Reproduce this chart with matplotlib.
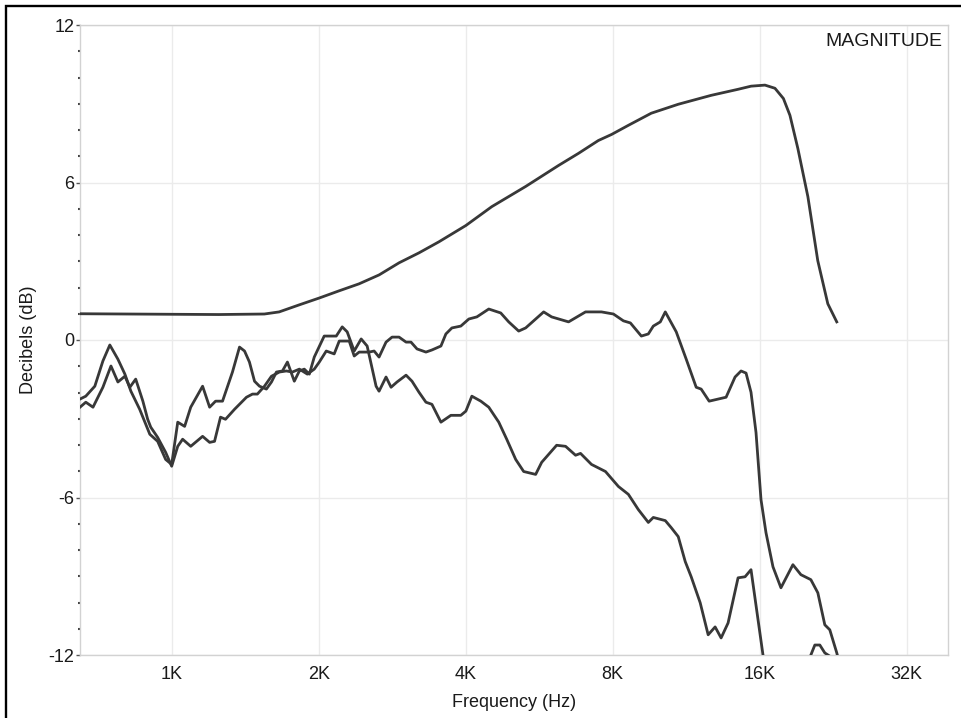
import matplotlib

matplotlib.use("Agg")

import matplotlib.pyplot as plt
from matplotlib.patches import Rectangle
from matplotlib.ticker import FixedLocator, MultipleLocator, NullLocator

# Target (smooth) magnitude curve
target_hz = [649, 1000, 1250, 1548, 1660, 1826, 2006, 2200, 2420, 2660, 2922, 3210,
             3526, 4003, 4525, 5310, 6200, 6810, 7480, 7960, 8620, 9600, 10900,
             12730, 14450, 15370, 16410, 17200, 17900, 18460, 19160, 20090, 21050,
             22070, 23020]
target_db = [1.0, 0.98, 0.97, 0.99, 1.07, 1.34, 1.60, 1.87, 2.14, 2.48, 2.94, 3.32,
             3.74, 4.36, 5.08, 5.85, 6.65, 7.11, 7.60, 7.83, 8.18, 8.64, 8.98,
             9.32, 9.55, 9.67, 9.71, 9.59, 9.20, 8.56, 7.30, 5.46, 3.02,
             1.38, 0.69]

# Measured response, first trace
resp1_hz = [649, 667, 696, 723, 747, 776, 802, 825, 860, 902, 936, 972, 1000, 1029,
            1063, 1094, 1157, 1196, 1230, 1271, 1332, 1377, 1410, 1443, 1478, 1513,
            1563, 1601, 1639, 1686, 1726, 1783, 1826, 1869, 1914, 1959, 2053, 2173,
            2235, 2288, 2365, 2444, 2514, 2622, 2659, 2748, 2814, 2894, 3020, 3106,
            3210, 3317, 3412, 3560, 3731, 3910, 4004, 4119, 4297, 4461, 4676, 4855,
            5065, 5259, 5565, 5725, 6143, 6408, 6717, 6876, 7241, 7735, 8221, 8617,
            9031, 9467, 9692, 10255, 10548, 10901, 11266, 11588, 12090, 12553,
            12972, 13343, 13789, 14454, 14938, 15364, 16257, 17000, 19500, 20373,
            20760, 21254, 21759, 22382, 23024]
resp1_db = [-2.25, -2.14, -1.76, -0.80, -0.19, -0.73, -1.30, -1.95, -2.64, -3.59,
            -3.86, -4.55, -4.74, -3.13, -3.29, -2.56, -1.76, -2.56, -2.33, -2.33,
            -1.22, -0.27, -0.42, -0.84, -1.57, -1.76, -1.87, -1.60, -1.22, -1.18,
            -0.84, -1.57, -1.18, -1.11, -1.30, -0.65, 0.15, 0.15, 0.50, 0.31, -0.42,
            0.04, -0.23, -1.76, -1.95, -1.41, -1.80, -1.60, -1.34, -1.57, -1.99,
            -2.37, -2.45, -3.13, -2.87, -2.87, -2.71, -2.14, -2.33, -2.56, -3.13,
            -3.78, -4.55, -5.01, -5.12, -4.66, -4.01, -4.05, -4.39, -4.32, -4.74,
            -5.01, -5.58, -5.88, -6.46, -6.95, -6.76, -6.88, -7.15, -7.49, -8.44,
            -9.02, -10.01, -11.23, -10.93, -11.35, -10.78, -9.06, -9.02, -8.75,
            -12.00, -14.0, -14.0, -12.00, -11.62, -11.62, -11.92, -12.07, -12.8]

# Measured response, second trace
resp2_hz = [649, 667, 690, 723, 751, 776, 802, 821, 844, 873, 893, 906, 936, 972,
            1000, 1029, 1053, 1094, 1157, 1196, 1224, 1259, 1289, 1345, 1423, 1464,
            1498, 1549, 1601, 1662, 1717, 1767, 1826, 1896, 1959, 2006, 2073, 2152,
            2204, 2310, 2365, 2421, 2537, 2598, 2659, 2748, 2827, 2922, 3020, 3091,
            3180, 3317, 3412, 3560, 3644, 3749, 3910, 4061, 4217, 4461, 4720, 4901,
            5137, 5309, 5779, 6000, 6499, 7040, 7590, 8030, 8417, 8699, 9160, 9467,
            9692, 10017, 10255, 10799, 11319, 11864, 12146, 12612, 13660, 14251,
            14659, 15008, 15364, 15730, 16105, 16488, 17040, 17693, 18720, 19438,
            20373, 21055, 21759, 22277, 23024, 23351]
resp2_db = [-2.56, -2.37, -2.56, -1.80, -0.99, -1.60, -1.38, -1.80, -1.49, -2.33,
            -3.02, -3.32, -3.71, -4.28, -4.81, -4.05, -3.78, -4.05, -3.67, -3.90,
            -3.86, -2.94, -3.02, -2.64, -2.18, -2.06, -2.06, -1.76, -1.38, -1.22,
            -1.18, -1.22, -1.11, -1.30, -1.11, -0.84, -0.42, -0.53, -0.04, -0.04,
            -0.61, -0.46, -0.46, -0.42, -0.65, -0.08, 0.11, 0.11, -0.08, -0.08,
            -0.34, -0.46, -0.38, -0.23, 0.23, 0.46, 0.53, 0.80, 0.88, 1.18, 1.03,
            0.69, 0.34, 0.46, 1.07, 0.88, 0.69, 1.07, 1.07, 0.99, 0.73, 0.65, 0.15,
            0.23, 0.53, 0.69, 1.07, 0.31, -0.73, -1.80, -1.87, -2.33, -2.18, -1.41,
            -1.18, -1.26, -1.99, -3.52, -6.08, -7.34, -8.64, -9.44, -8.56, -8.94,
            -9.13, -9.63, -10.85, -11.04, -11.92, -12.38]

octave_ticks = [1000, 2000, 4000, 8000, 16000, 32000]
octave_labels = ["1K", "2K", "4K", "8K", "16K", "32K"]
db_ticks = [-12, -6, 0, 6, 12]

LINE = "#383838"
TEXT = "#1a1a1a"

plt.rcParams.update({
    "font.family": ["Liberation Sans", "DejaVu Sans"],
    "font.size": 13,
    "axes.unicode_minus": False,
    "text.color": TEXT,
    "axes.labelcolor": TEXT,
    "xtick.color": TEXT,
    "ytick.color": TEXT,
})

fig = plt.figure(figsize=(9.62, 7.18), dpi=100)
ax = fig.add_axes([80 / 962, 1 - 655 / 718, 868 / 962, 630 / 718])

for hz, db in [(target_hz, target_db), (resp1_hz, resp1_db), (resp2_hz, resp2_db)]:
    ax.plot(hz, db, color=LINE, linewidth=2.0, solid_joinstyle="round", zorder=3)

ax.set_xscale("log", base=2)
ax.set_xlim(649, 38900)
ax.set_ylim(-12, 12)
ax.xaxis.set_major_locator(FixedLocator(octave_ticks))
ax.xaxis.set_minor_locator(NullLocator())
ax.set_xticklabels(octave_labels)
ax.yaxis.set_major_locator(FixedLocator(db_ticks))
ax.yaxis.set_minor_locator(MultipleLocator(1))

ax.tick_params(axis="x", length=0, pad=8, labelsize=13)
ax.tick_params(axis="y", which="major", length=3, width=1, pad=1, labelsize=13,
               color="#555555")
ax.tick_params(axis="y", which="minor", length=1.5, width=1.5, color="#444444")

ax.grid(True, which="major", color="#ebebeb", linewidth=1.0, zorder=0)
for spine in ax.spines.values():
    spine.set_color("#d2d2d2")
    spine.set_linewidth(1.0)

ax.set_xlabel("Frequency (Hz)", fontsize=13, labelpad=8)
ax.set_ylabel("Decibels (dB)", fontsize=13)
ax.yaxis.set_label_coords(-0.05, 0.5)
ax.text(0.993, 0.987, "MAGNITUDE", transform=ax.transAxes, ha="right", va="top",
        fontsize=14)

# Page frame, cropped at the right and bottom
fig.add_artist(Rectangle((6 / 962, -0.1), 1.2, 1.1 - 6 / 718, transform=fig.transFigure,
                         fill=False, edgecolor="black", linewidth=1.7, clip_on=False))

fig.savefig("out.png", dpi=100, facecolor="white")
